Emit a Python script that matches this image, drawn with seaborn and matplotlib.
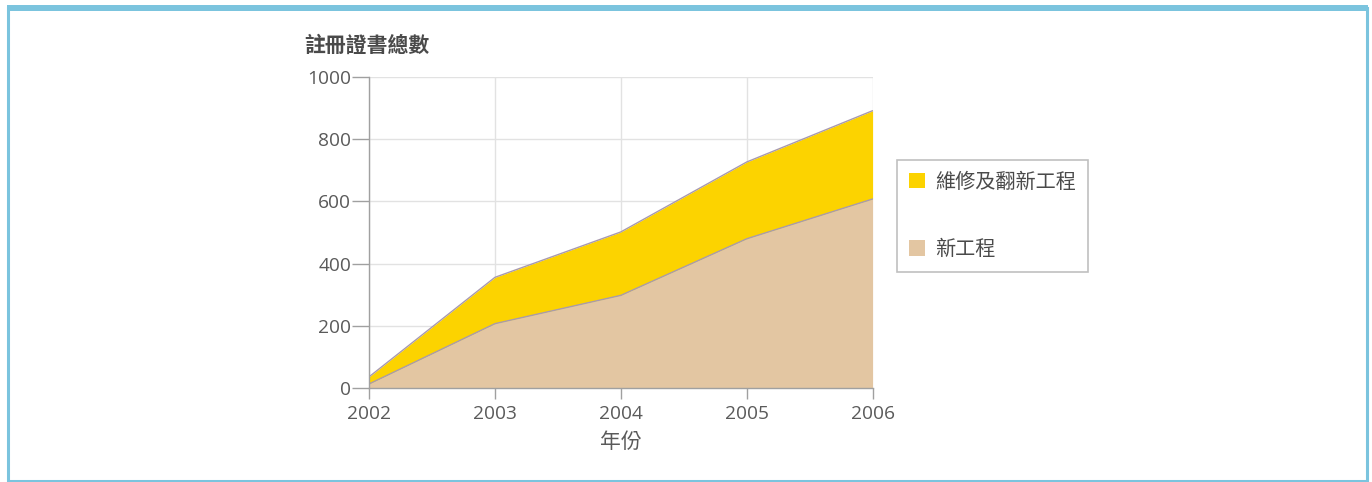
import matplotlib
matplotlib.use("Agg")
import matplotlib.pyplot as plt
import pandas as pd
import seaborn as sns
from matplotlib.patches import Patch, Rectangle

# Data
years = [2002, 2003, 2004, 2005, 2006]
new_works = [13, 207, 298, 480, 608]
renovation = [23, 149, 204, 247, 284]
labels = ["新工程", "維修及翻新工程"]

df = pd.DataFrame({"年份": years, "新工程": new_works, "維修及翻新工程": renovation})
df["總數"] = df["新工程"] + df["維修及翻新工程"]

sns.set_theme(style="whitegrid")
plt.rcParams['font.family'] = ['Open Sans', 'Noto Sans CJK TC', 'DejaVu Sans']

tan = "#E3C6A2"
yellow = "#FCD300"
edge = "#A89AAE"

fig = plt.figure(figsize=(13.72, 4.82), dpi=100)
ax = fig.add_axes([0.269, 0.195, 0.367, 0.645])

ax.fill_between(df["年份"], 0, df["新工程"], color=tan, lw=0)
ax.fill_between(df["年份"], df["新工程"], df["總數"], color=yellow, lw=0)
sns.lineplot(data=df, x="年份", y="新工程", ax=ax, color=edge, lw=1)
sns.lineplot(data=df, x="年份", y="總數", ax=ax, color=edge, lw=1)

ax.set_xlim(2002, 2006)
ax.set_ylim(0, 1000)
ax.set_xticks(years)
ax.set_yticks(range(0, 1001, 200))
ax.grid(True, color="#E2E2E2", lw=1)
ax.set_axisbelow(True)
for s in ["top", "right"]:
    ax.spines[s].set_visible(False)
for s in ["left", "bottom"]:
    ax.spines[s].set_color("#A0A0A0")
    ax.spines[s].set_linewidth(1)
ax.tick_params(axis="both", which="both", width=1, color="#A0A0A0",
               labelsize=13.8, labelcolor="#5A5A5A", bottom=True, left=True)
ax.tick_params(axis="y", length=12, pad=1)
ax.tick_params(axis="x", length=8, pad=4)
ax.set_ylabel("")
ax.set_xlabel("年份", fontsize=15, color="#5A5A5A", labelpad=6,
              family=['Noto Sans CJK TC'])

ax.text(-0.129, 1.103, "註冊證書總數", transform=ax.transAxes, ha="left", va="center",
        fontsize=15, fontweight="bold", color="#4A4A4A", family=['Noto Sans CJK TC'])

handles = [Patch(facecolor=yellow, edgecolor="none"), Patch(facecolor=tan, edgecolor="none")]
leg = ax.legend(handles, [labels[1], labels[0]], loc="upper left",
                bbox_to_anchor=(1.048, 0.735), frameon=True, fancybox=False,
                handlelength=0.8, handleheight=0.8, handletextpad=0.5,
                labelspacing=2.3, borderpad=0.6, borderaxespad=0,
                prop={"family": ['Noto Sans CJK TC'], "size": 14.5})
leg.get_frame().set_edgecolor("#B0B0B0")
leg.get_frame().set_linewidth(1.2)
for t in leg.get_texts():
    t.set_color("#4A4A4A")

# light blue frame around the figure
W, H = 1372, 482
fig.patches.append(Rectangle((8 / W, 1.5 / H), (1367 - 8) / W, (474 - 1.5) / H,
                             transform=fig.transFigure, fill=False,
                             edgecolor="#7BC4DE", lw=2.2))
fig.patches.append(Rectangle((7 / W, 1 - 11 / H), (1368 - 7) / W, 6 / H,
                             transform=fig.transFigure, color="#7BC4DE", lw=0))

fig.savefig("out.png", dpi=100)
